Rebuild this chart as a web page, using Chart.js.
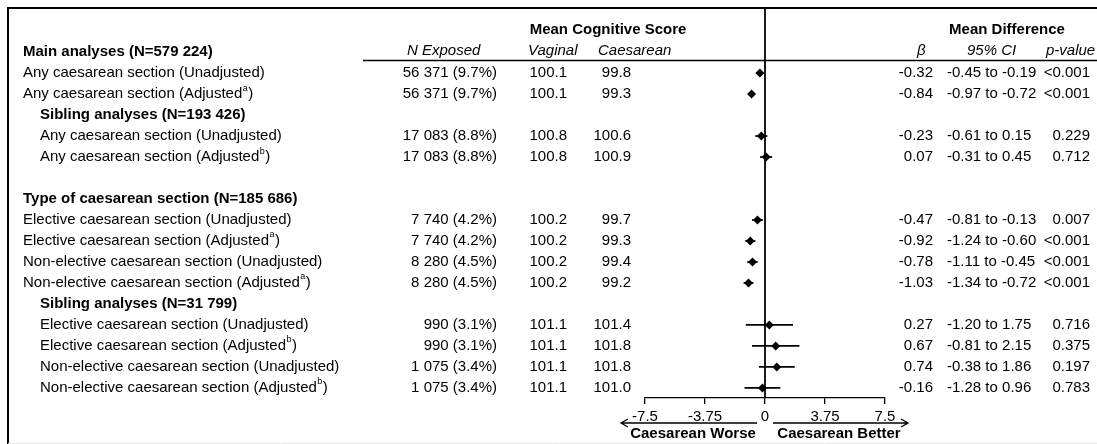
<!DOCTYPE html>
<html><head><meta charset="utf-8">
<script src="https://cdn.jsdelivr.net/npm/chart.js@4/dist/chart.umd.min.js"></script>
<style>html,body{margin:0;padding:0;background:#fff}#wrap{width:1097px;height:444px;position:relative}</style>
</head><body><div id="wrap"><canvas id="c"></canvas></div>
<script>
// ---- Data ----
const rowLabels = [
  "Main analyses (N=579 224)",
  "Any caesarean section (Unadjusted)",
  "Any caesarean section (Adjusted^a)",
  "Sibling analyses (N=193 426)",
  "Any caesarean section (Unadjusted)",
  "Any caesarean section (Adjusted^b)",
  "",
  "Type of caesarean section (N=185 686)",
  "Elective caesarean section (Unadjusted)",
  "Elective caesarean section (Adjusted^a)",
  "Non-elective caesarean section (Unadjusted)",
  "Non-elective caesarean section (Adjusted^a)",
  "Sibling analyses (N=31 799)",
  "Elective caesarean section (Unadjusted)",
  "Elective caesarean section (Adjusted^b)",
  "Non-elective caesarean section (Unadjusted)",
  "Non-elective caesarean section (Adjusted^b)"
];
const rowIndent = [0,0,0,1,1,1,0,0,0,0,0,0,1,1,1,1,1];
const rowBold   = [1,0,0,1,0,0,0,1,0,0,0,0,1,0,0,0,0];
const dataRows  = [1,2,4,5,8,9,10,11,13,14,15,16];
const nExposed  = ["56 371 (9.7%)","56 371 (9.7%)","17 083 (8.8%)","17 083 (8.8%)","7 740 (4.2%)","7 740 (4.2%)","8 280 (4.5%)","8 280 (4.5%)","990 (3.1%)","990 (3.1%)","1 075 (3.4%)","1 075 (3.4%)"];
const vaginal   = ["100.1","100.1","100.8","100.8","100.2","100.2","100.2","100.2","101.1","101.1","101.1","101.1"];
const caesarean = ["99.8","99.3","100.6","100.9","99.7","99.3","99.4","99.2","101.4","101.8","101.8","101.0"];
const beta      = [-0.32,-0.84,-0.23,0.07,-0.47,-0.92,-0.78,-1.03,0.27,0.67,0.74,-0.16];
const ciLow     = [-0.45,-0.97,-0.61,-0.31,-0.81,-1.24,-1.11,-1.34,-1.20,-0.81,-0.38,-1.28];
const ciHigh    = [-0.19,-0.72,0.15,0.45,-0.13,-0.60,-0.45,-0.72,1.75,2.15,1.86,0.96];
const pValues   = ["<0.001","<0.001","0.229","0.712","0.007","<0.001","<0.001","<0.001","0.716","0.375","0.197","0.783"];
const tickValues = [-7.5,-3.75,0,3.75,7.5];
const tickLabels = ["-7.5","-3.75","0","3.75","7.5"];

const FONT = '"Liberation Sans", Arial, sans-serif';

function drawLabel(ctx, text, x, y, bold) {
  const parts = text.split(/\^(\w)/);
  let cx = x;
  parts.forEach((p, i) => {
    if (i % 2 === 1) {
      ctx.font = '9px ' + FONT;
      ctx.fillText(p, cx + 0.5, y - 6);
      cx += ctx.measureText(p).width + 1;
    } else {
      ctx.font = (bold ? 'bold ' : '') + '15px ' + FONT;
      ctx.fillText(p, cx, y);
      cx += ctx.measureText(p).width;
    }
  });
}

const tablePlugin = {
  id: 'table',
  beforeDatasetsDraw(chart) {
    const ctx = chart.ctx, xs = chart.scales.x, a = chart.chartArea;
    ctx.save();
    ctx.strokeStyle = '#000';
    ctx.lineWidth = 1.8;
    const x0 = xs.getPixelForValue(0);
    ctx.beginPath(); ctx.moveTo(x0, a.top); ctx.lineTo(x0, a.bottom); ctx.stroke();
    ctx.restore();
  },
  afterDraw(chart) {
    const ctx = chart.ctx, xs = chart.scales.x, ys = chart.scales.y, a = chart.chartArea;
    ctx.save();
    ctx.fillStyle = '#000'; ctx.strokeStyle = '#000';
    // frame
    ctx.lineWidth = 2;
    ctx.beginPath(); ctx.moveTo(8, 444); ctx.lineTo(8, a.top); ctx.lineTo(1097, a.top); ctx.stroke();
    ctx.strokeStyle = '#e6e6e6'; ctx.lineWidth = 1;
    ctx.beginPath(); ctx.moveTo(8, 443.5); ctx.lineTo(1097, 443.5); ctx.stroke();
    ctx.strokeStyle = '#000';
    // header line
    const hy = ys.getPixelForValue(0.4);
    ctx.lineWidth = 1.5;
    ctx.beginPath(); ctx.moveTo(363, hy); ctx.lineTo(1097, hy); ctx.stroke();
    ctx.textBaseline = 'middle';
    // headers
    const yh1 = ys.getPixelForValue(-1.05), yh2 = ys.getPixelForValue(-0.05);
    ctx.font = 'bold 15px ' + FONT; ctx.textAlign = 'center';
    ctx.fillText('Mean Cognitive Score', 608, yh1);
    ctx.fillText('Mean Difference', 1007, yh1);
    ctx.font = 'italic 15px ' + FONT; ctx.textAlign = 'left';
    ctx.fillText('N Exposed', 407, yh2);
    ctx.fillText('Vaginal', 528, yh2);
    ctx.fillText('Caesarean', 598, yh2);
    ctx.fillText('\u03B2', 917, yh2);
    ctx.fillText('95% CI', 967, yh2);
    ctx.fillText('p-value', 1046, yh2);
    // row labels
    ctx.textAlign = 'left';
    rowLabels.forEach((t, i) => {
      if (!t) return;
      drawLabel(ctx, t, rowIndent[i] ? 40 : 23, ys.getPixelForValue(i), rowBold[i]);
    });
    // data columns
    ctx.font = '15px ' + FONT;
    dataRows.forEach((r, k) => {
      const y = ys.getPixelForValue(r);
      ctx.textAlign = 'right';
      ctx.fillText(nExposed[k], 497, y);
      ctx.fillText(vaginal[k], 567, y);
      ctx.fillText(caesarean[k], 631, y);
      ctx.fillText(beta[k].toFixed(2), 933, y);
      ctx.fillText(pValues[k], 1090, y);
      ctx.textAlign = 'left';
      ctx.fillText(ciLow[k].toFixed(2) + ' to ' + ciHigh[k].toFixed(2), 947, y);
    });
    // direction arrows
    const x0 = xs.getPixelForValue(0);
    const xl = xs.getPixelForValue(-7.5), xr = xs.getPixelForValue(7.5);
    const ay = 423;
    ctx.lineWidth = 1.3;
    ctx.beginPath();
    ctx.moveTo(x0 - 8, ay); ctx.lineTo(xl - 24, ay);
    ctx.moveTo(xl - 17, ay - 4); ctx.lineTo(xl - 24, ay); ctx.lineTo(xl - 17, ay + 4);
    ctx.moveTo(x0 + 8, ay); ctx.lineTo(xr + 23, ay);
    ctx.moveTo(xr + 16, ay - 4); ctx.lineTo(xr + 23, ay); ctx.lineTo(xr + 16, ay + 4);
    ctx.stroke();
    ctx.font = 'bold 15px ' + FONT; ctx.textAlign = 'center';
    ctx.fillText('Caesarean Worse', 693, 434);
    ctx.fillText('Caesarean Better', 839, 434);
    ctx.restore();
  }
};

const pointData = beta.map((b, k) => ({x: b, y: dataRows[k]}));
const ciSets = dataRows.map((r, k) => ({
  type: 'line',
  data: [{x: ciLow[k], y: r}, {x: ciHigh[k], y: r}],
  borderColor: '#000', borderWidth: 1.7, pointRadius: 0, showLine: true, order: 2
}));

new Chart(document.getElementById('c'), {
  type: 'scatter',
  data: {
    datasets: [
      {data: pointData, pointStyle: 'rectRot', pointRadius: 4.5, backgroundColor: '#000', borderColor: '#000', borderWidth: 0, order: 0},
      ...ciSets
    ]
  },
  options: {
    responsive: true, maintainAspectRatio: false, animation: false,
    devicePixelRatio: 1,
    layout: {padding: {left: 645, right: 212, top: 8, bottom: 14}},
    plugins: {legend: {display: false}, tooltip: {enabled: false}},
    scales: {
      x: {
        type: 'linear', min: -7.5, max: 7.5,
        afterBuildTicks: s => { s.ticks = tickValues.map(v => ({value: v})); },
        grid: {display: true, drawOnChartArea: false, drawTicks: true, tickLength: 6, color: '#000', lineWidth: 1.3},
        border: {display: true, color: '#000', width: 1.3},
        ticks: {color: '#000', padding: 4, autoSkip: false, maxRotation: 0, font: {family: FONT, size: 15},
          callback: (v, i) => tickLabels[i]}
      },
      y: {type: 'linear', display: false, reverse: true, min: -2.1, max: 16.48}
    }
  },
  plugins: [tablePlugin]
});
</script></body></html>
